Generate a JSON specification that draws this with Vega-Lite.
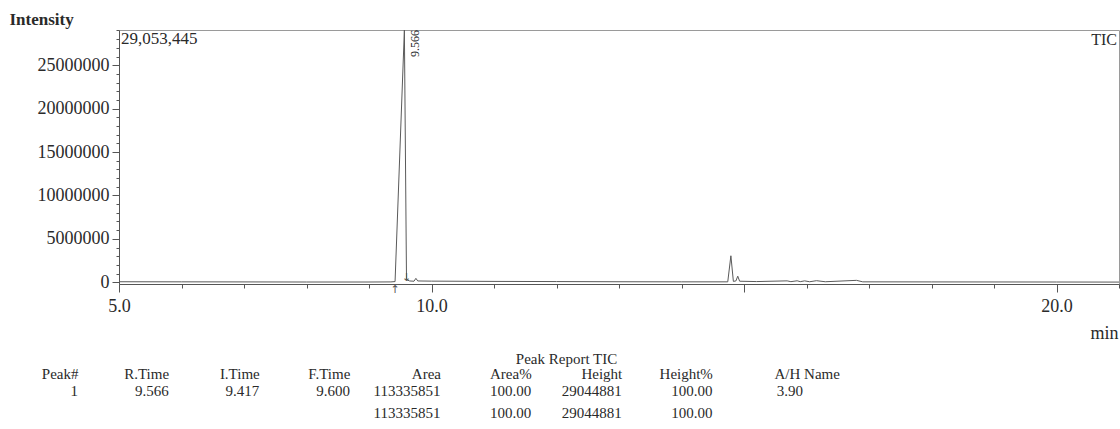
{
  "$schema": "https://vega.github.io/schema/vega-lite/v6.json",
  "background": "white",
  "padding": {"left": 8, "top": 9, "right": 2, "bottom": 0},
  "bounds": "flush",
  "spacing": 112,
  "config": {
    "font": "Liberation Serif",
    "text": {"font": "Liberation Serif", "color": "#2a2a2a"}
  },
  "datasets": {
    "trace": [
      {"time": 5.0, "intensity": 60000},
      {"time": 6.0, "intensity": 50000},
      {"time": 7.0, "intensity": 40000},
      {"time": 8.0, "intensity": 30000},
      {"time": 9.0, "intensity": 30000},
      {"time": 9.35, "intensity": 40000},
      {"time": 9.417, "intensity": 80000},
      {"time": 9.566, "intensity": 29044881},
      {"time": 9.6, "intensity": 300000},
      {"time": 9.65, "intensity": 150000},
      {"time": 9.72, "intensity": 120000},
      {"time": 9.75, "intensity": 450000},
      {"time": 9.78, "intensity": 150000},
      {"time": 10.0, "intensity": 130000},
      {"time": 11.0, "intensity": 100000},
      {"time": 12.0, "intensity": 80000},
      {"time": 13.0, "intensity": 60000},
      {"time": 14.0, "intensity": 50000},
      {"time": 14.74, "intensity": 50000},
      {"time": 14.79, "intensity": 3050000},
      {"time": 14.83, "intensity": 100000},
      {"time": 14.87, "intensity": 150000},
      {"time": 14.9, "intensity": 700000},
      {"time": 14.93, "intensity": 120000},
      {"time": 15.2, "intensity": 80000},
      {"time": 15.69, "intensity": 160000},
      {"time": 15.75, "intensity": 70000},
      {"time": 15.85, "intensity": 170000},
      {"time": 15.9, "intensity": 70000},
      {"time": 15.97, "intensity": 160000},
      {"time": 16.05, "intensity": 60000},
      {"time": 16.16, "intensity": 180000},
      {"time": 16.3, "intensity": 60000},
      {"time": 16.8, "intensity": 220000},
      {"time": 16.9, "intensity": 50000},
      {"time": 18.0, "intensity": 40000},
      {"time": 20.0, "intensity": 30000},
      {"time": 21.0, "intensity": 20000}
    ],
    "fullscale": [
      {"start": 5.0, "end": 21.0, "max": 29053445, "name": "TIC"}
    ],
    "peaks": [
      {"peak": 1, "rtime": 9.566, "itime": 9.417, "ftime": 9.6, "height": 29044881}
    ],
    "report": [
      {"row": "1", "column": "Peak#", "value": "1"},
      {"row": "1", "column": "R.Time", "value": "9.566"},
      {"row": "1", "column": "I.Time", "value": "9.417"},
      {"row": "1", "column": "F.Time", "value": "9.600"},
      {"row": "1", "column": "Area", "value": "113335851"},
      {"row": "1", "column": "Area%", "value": "100.00"},
      {"row": "1", "column": "Height", "value": "29044881"},
      {"row": "1", "column": "Height%", "value": "100.00"},
      {"row": "1", "column": "A/H", "value": "3.90"},
      {"row": "2", "column": "Area", "value": "113335851"},
      {"row": "2", "column": "Area%", "value": "100.00"},
      {"row": "2", "column": "Height", "value": "29044881"},
      {"row": "2", "column": "Height%", "value": "100.00"}
    ]
  },
  "vconcat": [
    {
      "width": 1000,
      "height": 254,
      "view": {"stroke": "#9a9a9a", "strokeWidth": 1},
      "encoding": {
        "x": {
          "type": "quantitative",
          "scale": {"domain": [5, 21], "nice": false, "zero": false},
          "axis": {
            "values": [5, 6, 7, 8, 9, 10, 11, 12, 13, 14, 15, 16, 17, 18, 19, 20, 21],
            "labelExpr": "datum.value === 5 || datum.value === 10 || datum.value === 20 ? format(datum.value, '.1f') : ''",
            "tickSize": {"condition": {"test": "datum.value % 5 === 0", "value": 8}, "value": 4},
            "tickColor": "#555555",
            "domainColor": "#555555",
            "grid": false,
            "labelFont": "Liberation Serif",
            "labelFontSize": 18,
            "labelColor": "#2a2a2a",
            "labelPadding": 5,
            "labelBaseline": "top",
            "labelFlush": false,
            "labelOverlap": false,
            "title": "min",
            "titleFont": "Liberation Serif",
            "titleFontSize": 18,
            "titleFontWeight": "normal",
            "titleColor": "#2a2a2a",
            "titleAlign": "right",
            "titleAnchor": null,
            "titleBaseline": "alphabetic",
            "titleX": 999,
            "titleY": 54
          }
        },
        "y": {
          "type": "quantitative",
          "scale": {"domain": [-200000, 29053445], "nice": false, "zero": false},
          "axis": {
            "values": [0, 1000000, 2000000, 3000000, 4000000, 5000000, 6000000, 7000000, 8000000, 9000000, 10000000, 11000000, 12000000, 13000000, 14000000, 15000000, 16000000, 17000000, 18000000, 19000000, 20000000, 21000000, 22000000, 23000000, 24000000, 25000000, 26000000, 27000000, 28000000, 29000000],
            "labelExpr": "datum.value % 5000000 === 0 ? format(datum.value, 'd') : ''",
            "tickSize": {"condition": {"test": "datum.value % 5000000 === 0", "value": 7}, "value": 3},
            "tickColor": "#555555",
            "domainColor": "#555555",
            "grid": false,
            "labelFont": "Liberation Serif",
            "labelFontSize": 18,
            "labelColor": "#2a2a2a",
            "labelPadding": 3,
            "labelFlush": false,
            "labelOverlap": false,
            "title": "Intensity",
            "titleFont": "Liberation Serif",
            "titleFontSize": 17,
            "titleFontWeight": "bold",
            "titleColor": "#2a2a2a",
            "titleAngle": 0,
            "titleAlign": "left",
            "titleAnchor": null,
            "titleBaseline": "alphabetic",
            "titleX": -110,
            "titleY": -6
          }
        }
      },
      "layer": [
        {
          "data": {"name": "trace"},
          "mark": {"type": "line", "color": "#5a5a5a", "strokeWidth": 1},
          "encoding": {
            "x": {"field": "time", "type": "quantitative"},
            "y": {"field": "intensity", "type": "quantitative"}
          }
        },
        {
          "data": {"name": "fullscale"},
          "mark": {"type": "text", "align": "left", "baseline": "top", "dx": 2, "dy": 1, "fontSize": 17},
          "encoding": {
            "x": {"field": "start", "type": "quantitative"},
            "y": {"field": "max", "type": "quantitative"},
            "text": {"field": "max", "type": "quantitative", "format": ","}
          }
        },
        {
          "data": {"name": "fullscale"},
          "mark": {"type": "text", "align": "right", "baseline": "top", "dx": -2, "dy": 2, "fontSize": 16},
          "encoding": {
            "x": {"field": "end", "type": "quantitative"},
            "y": {"field": "max", "type": "quantitative"},
            "text": {"field": "name", "type": "nominal"}
          }
        },
        {
          "data": {"name": "peaks"},
          "mark": {"type": "text", "angle": 270, "align": "right", "baseline": "top", "dy": 6, "dx": 0, "fontSize": 12},
          "encoding": {
            "x": {"field": "rtime", "type": "quantitative"},
            "y": {"field": "height", "type": "quantitative"},
            "text": {"field": "rtime", "type": "quantitative", "format": ".3f"}
          }
        },
        {
          "data": {"name": "peaks"},
          "mark": {"type": "text", "text": "↑", "font": "DejaVu Sans", "align": "center", "baseline": "top", "dy": 2, "fontSize": 11, "color": "#555555"},
          "encoding": {
            "x": {"field": "itime", "type": "quantitative"},
            "y": {"datum": 0}
          }
        },
        {
          "data": {"name": "peaks"},
          "mark": {"type": "text", "text": "↓", "font": "DejaVu Sans", "align": "center", "baseline": "bottom", "dy": 1, "fontSize": 11, "color": "#555555"},
          "encoding": {
            "x": {"field": "ftime", "type": "quantitative"},
            "y": {"datum": 0}
          }
        }
      ]
    },
    {
      "width": 725,
      "height": 22,
      "view": {"stroke": null},
      "data": {"name": "report"},
      "mark": {"type": "text", "align": "right", "baseline": "alphabetic", "dx": -41, "fontSize": 15, "font": "Liberation Serif", "color": "#2a2a2a"},
      "encoding": {
        "x": {
          "field": "column",
          "type": "nominal",
          "scale": {"type": "point", "padding": 0, "domain": ["Peak#", "R.Time", "I.Time", "F.Time", "Area", "Area%", "Height", "Height%", "A/H"]},
          "axis": {
            "orient": "top",
            "domain": false,
            "ticks": false,
            "grid": false,
            "labelAngle": 0,
            "labelExpr": "datum.value === 'A/H' ? 'A/H  Name' : datum.value",
            "labelAlign": {"condition": {"test": "datum.value === 'A/H'", "value": "left"}, "value": "right"},
            "labelOffset": {"condition": {"test": "datum.value === 'A/H'", "value": -70}, "value": -41},
            "labelBaseline": "alphabetic",
            "labelPadding": 18,
            "labelFont": "Liberation Serif",
            "labelFontSize": 15,
            "labelColor": "#2a2a2a",
            "labelFlush": false,
            "labelOverlap": false,
            "title": "Peak Report TIC",
            "titleFont": "Liberation Serif",
            "titleFontSize": 15,
            "titleFontWeight": "normal",
            "titleColor": "#2a2a2a",
            "titleAlign": "center",
            "titleAnchor": null,
            "titleBaseline": "alphabetic",
            "titleX": 447,
            "titleY": -33
          }
        },
        "y": {
          "field": "row",
          "type": "ordinal",
          "scale": {"type": "point", "padding": 0},
          "axis": null
        },
        "text": {"field": "value", "type": "nominal"}
      }
    }
  ]
}
